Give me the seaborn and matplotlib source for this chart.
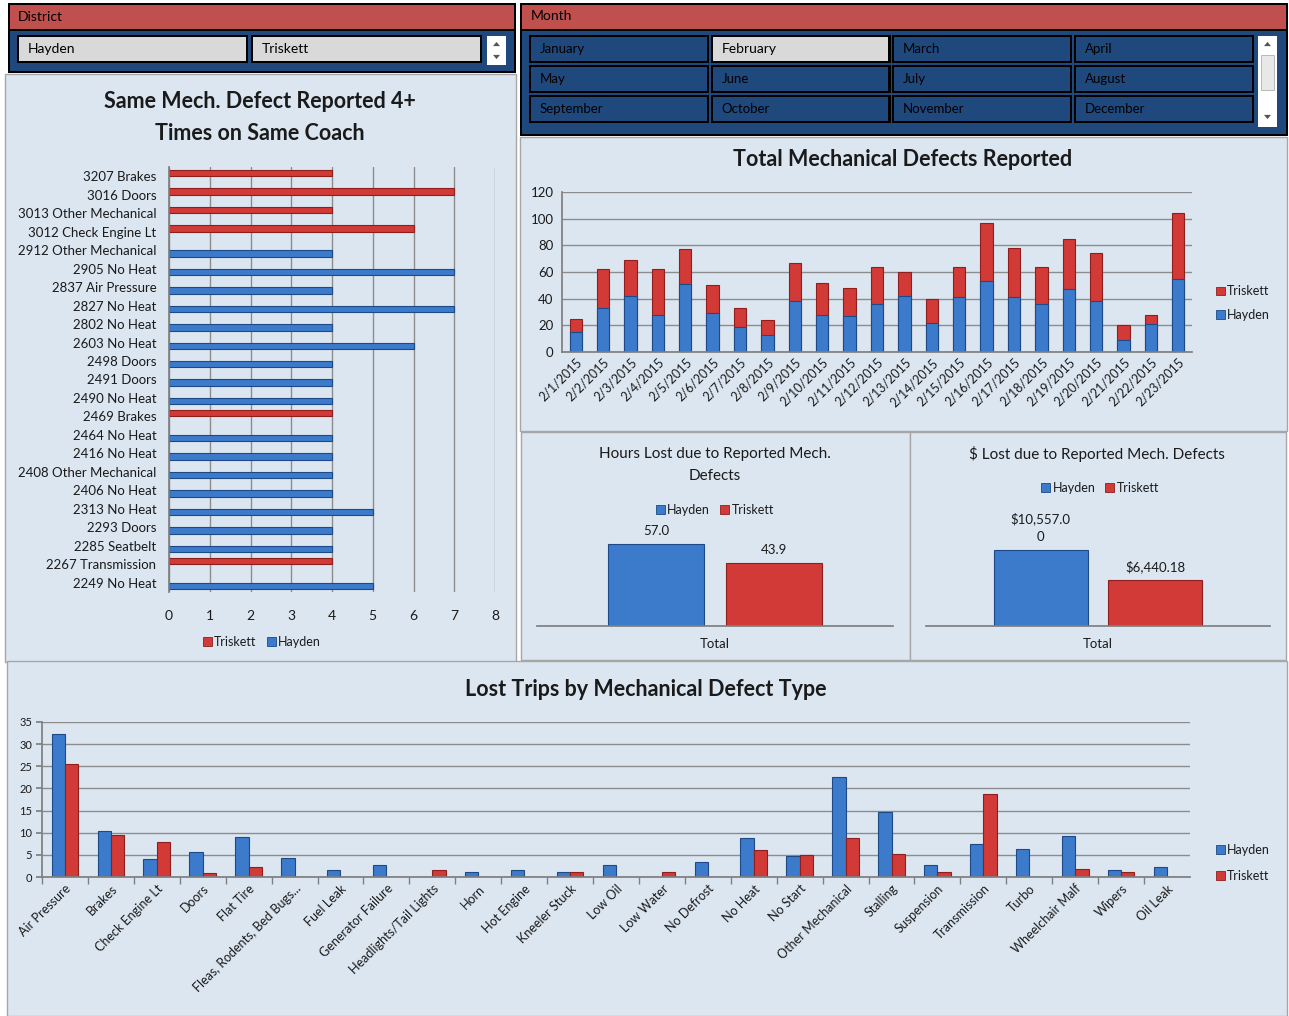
import numpy as np
import pandas as pd
import matplotlib
matplotlib.use("Agg")
import matplotlib.pyplot as plt
import seaborn as sns
from matplotlib.patches import Rectangle, Patch, Polygon

# ---------------- data ----------------
districts = ["Hayden", "Triskett"]
months = ["January", "February", "March", "April",
          "May", "June", "July", "August",
          "September", "October", "November", "December"]
selected_month = "February"

coach_labels = ["3207 Brakes", "3016 Doors", "3013 Other Mechanical", "3012 Check Engine Lt",
                "2912 Other Mechanical", "2905 No Heat", "2837 Air Pressure", "2827 No Heat",
                "2802 No Heat", "2603 No Heat", "2498 Doors", "2491 Doors", "2490 No Heat",
                "2469 Brakes", "2464 No Heat", "2416 No Heat", "2408 Other Mechanical",
                "2406 No Heat", "2313 No Heat", "2293 Doors", "2285 Seatbelt",
                "2267 Transmission", "2249 No Heat"]
coach_district = ["Triskett", "Triskett", "Triskett", "Triskett",
                  "Hayden", "Hayden", "Hayden", "Hayden", "Hayden", "Hayden", "Hayden",
                  "Hayden", "Hayden", "Triskett", "Hayden", "Hayden", "Hayden", "Hayden",
                  "Hayden", "Hayden", "Hayden", "Triskett", "Hayden"]
coach_counts = [4, 7, 4, 6, 4, 7, 4, 7, 4, 6, 4, 4, 4, 4, 4, 4, 4, 4, 5, 4, 4, 4, 5]

dates = ["2/1/2015", "2/2/2015", "2/3/2015", "2/4/2015", "2/5/2015", "2/6/2015",
         "2/7/2015", "2/8/2015", "2/9/2015", "2/10/2015", "2/11/2015", "2/12/2015",
         "2/13/2015", "2/14/2015", "2/15/2015", "2/16/2015", "2/17/2015", "2/18/2015",
         "2/19/2015", "2/20/2015", "2/21/2015", "2/22/2015", "2/23/2015"]
hayden_daily = [15, 33, 42, 28, 51, 29, 19, 13, 38, 28, 27, 36, 42, 22, 41, 53, 41, 36, 47, 38, 9, 21, 55]
triskett_daily = [10, 29, 27, 34, 26, 21, 14, 11, 29, 24, 21, 28, 18, 18, 23, 44, 37, 28, 38, 36, 11, 7, 49]

hours_lost = [57.0, 43.9]
dollars_lost = [10557.00, 6440.18]

defect_types = ["Air Pressure", "Brakes", "Check Engine Lt", "Doors", "Flat Tire",
                "Fleas, Rodents, Bed Bugs...", "Fuel Leak", "Generator Failure",
                "Headlights/Tail Lights", "Horn", "Hot Engine", "Kneeler Stuck", "Low Oil",
                "Low Water", "No Defrost", "No Heat", "No Start", "Other Mechanical",
                "Stalling", "Suspension", "Transmission", "Turbo", "Wheelchair Malf",
                "Wipers", "Oil Leak"]
hayden_trips = [32.3, 10.5, 4.1, 5.6, 9.0, 4.2, 1.5, 2.7, 0, 1.1, 1.5, 1.1, 2.7,
                0, 3.4, 8.7, 4.7, 22.6, 14.7, 2.6, 7.5, 6.4, 9.3, 1.5, 2.3]
triskett_trips = [25.6, 9.4, 8.0, 0.9, 2.3, 0, 0, 0, 1.5, 0, 0, 1.1, 0,
                  1.1, 0, 6.0, 4.9, 8.7, 5.3, 1.1, 18.8, 0, 1.9, 1.1, 0]

# ---------------- style ----------------
sns.set_theme(style="white")
plt.rcParams["font.family"] = ["Lato", "DejaVu Sans"]

BLUE = "#3C7BCB"
BLUE_EDGE = "#1D4A86"
RED = "#D13A37"
RED_EDGE = "#8E1F1D"
PANEL = "#DCE6F1"
PANEL_EDGE = "#A6A6A6"
HEADER = "#C0504D"
SLICER = "#1F497D"
GRID = "#8C8C8C"
TXT = "#1A1A1A"
PAL = {"Hayden": BLUE, "Triskett": RED}
EDGE = {"Hayden": BLUE_EDGE, "Triskett": RED_EDGE}

W, H = 1289, 1016
fig = plt.figure(figsize=(W / 100, H / 100), dpi=100)
fig.patch.set_facecolor("white")


def add_ax(x0, y0, x1, y1):
    a = fig.add_axes([x0 / W, 1 - y1 / H, (x1 - x0) / W, (y1 - y0) / H])
    a.set_facecolor("none")
    return a


def rect(x0, y0, x1, y1, fc, ec="none", lw=0, z=-5):
    fig.add_artist(Rectangle((x0 / W, 1 - y1 / H), (x1 - x0) / W, (y1 - y0) / H,
                             transform=fig.transFigure, facecolor=fc, edgecolor=ec,
                             linewidth=lw, zorder=z))


def txt(x, y, s, **kw):
    kw.setdefault("color", TXT)
    fig.text(x / W, 1 - y / H, s, **kw)


def tri(x, y, up, z=-2):
    s = 3.5
    if up:
        pts = [(x - s, y + s * 0.6), (x + s, y + s * 0.6), (x, y - s * 0.6)]
    else:
        pts = [(x - s, y - s * 0.6), (x + s, y - s * 0.6), (x, y + s * 0.6)]
    fig.add_artist(Polygon([(px / W, 1 - py / H) for px, py in pts], closed=True,
                           transform=fig.transFigure, facecolor="#555555",
                           edgecolor="none", zorder=z))


def color_edges(ax):
    for p in ax.patches:
        fc = p.get_facecolor()
        if abs(fc[0] - matplotlib.colors.to_rgb(BLUE)[0]) < 0.05:
            p.set_edgecolor(BLUE_EDGE)
        else:
            p.set_edgecolor(RED_EDGE)
        p.set_linewidth(0.8)


def legend(handles_names, x, y, ncol, fontsize=9, labelspacing=0.5):
    handles = [Patch(facecolor=PAL[n], edgecolor=EDGE[n], linewidth=0.6) for n in handles_names]
    fig.legend(handles, handles_names, loc="center", bbox_to_anchor=(x / W, 1 - y / H),
               ncol=ncol, frameon=False, handlelength=0.7, handleheight=0.7,
               handletextpad=0.2, columnspacing=0.8, fontsize=fontsize,
               labelspacing=labelspacing, labelcolor=TXT)


# ---------------- slicers ----------------
# District slicer
rect(8, 3, 516, 73, "#000000")
rect(10, 5, 514, 29, HEADER)
rect(10, 31, 514, 71, SLICER)
txt(18, 17, "District", fontsize=10, va="center", ha="left", color="#000000")
for i, d in enumerate(districts):
    x0 = 18 + i * 234
    rect(x0 - 1, 35, x0 + 230, 63, "#000000", z=-4)
    rect(x0 + 1, 37, x0 + 228, 61, "#D9D9D9", z=-3)
    txt(x0 + 10, 49, d, fontsize=10, va="center", ha="left", color="#000000")
rect(487, 36, 506, 65, "white", z=-3)
tri(496.5, 44, True)
tri(496.5, 57, False)

# Month slicer
rect(520, 3, 1288, 136, "#000000")
rect(522, 5, 1286, 29, HEADER)
rect(522, 31, 1286, 134, SLICER)
txt(531, 16, "Month", fontsize=10, va="center", ha="left", color="#000000")
for i, m in enumerate(months):
    r, c = divmod(i, 4)
    x0 = 530 + c * 181.5
    y0 = 36 + r * 30
    sel = (m == selected_month)
    rect(x0 - 1, y0 - 1, x0 + 179, y0 + 27, "#000000", z=-4)
    rect(x0 + 1, y0 + 1, x0 + 177, y0 + 25, "#D9D9D9" if sel else SLICER, z=-3)
    txt(x0 + 10, y0 + 13, m, fontsize=10 if sel else 9.5, va="center", ha="left",
        color="#000000")
rect(1258, 36, 1277, 127, "white", z=-3)
rect(1261, 55, 1274, 90, "#E8E8E8", ec="#B0B0B0", lw=0.6, z=-2)
tri(1267.5, 44, True)
tri(1267.5, 117, False)

# ---------------- panels ----------------
rect(5, 74, 516, 662, PANEL, ec=PANEL_EDGE, lw=1)
rect(520, 137, 1287, 431, PANEL, ec=PANEL_EDGE, lw=1)
rect(521, 432, 910, 660, PANEL, ec=PANEL_EDGE, lw=1)
rect(910, 432, 1286, 660, PANEL, ec=PANEL_EDGE, lw=1)
rect(7, 661, 1287, 1016, PANEL, ec=PANEL_EDGE, lw=1)

# ---------------- horizontal bar chart ----------------
coach = pd.DataFrame({"Coach": coach_labels, "District": coach_district, "Count": coach_counts})
ax1 = add_ax(169, 167, 495, 592)
sns.barplot(data=coach, y="Coach", x="Count", hue="District", hue_order=["Triskett", "Hayden"],
            palette=PAL, dodge=True, width=0.7, orient="h", ax=ax1, legend=False, saturation=1)
color_edges(ax1)
ax1.set_xlim(0, 8)
ax1.set_xticks(range(0, 9))
ax1.grid(axis="x", color=GRID, linewidth=1)
ax1.set_axisbelow(True)
for s in ["top", "right", "bottom"]:
    ax1.spines[s].set_visible(False)
ax1.spines["left"].set_color("#7F7F7F")
ax1.set_xlabel("")
ax1.set_ylabel("")
ax1.tick_params(axis="y", length=0, pad=9, labelsize=9.5, labelcolor=TXT)
ax1.tick_params(axis="x", length=0, pad=13, labelsize=10, labelcolor=TXT)
txt(260, 102, "Same Mech. Defect Reported 4+", fontsize=15.5, fontweight="bold", ha="center", va="center")
txt(260, 134, "Times on Same Coach", fontsize=15.5, fontweight="bold", ha="center", va="center")
legend(["Triskett", "Hayden"], 262, 642, ncol=2)

# ---------------- stacked daily chart ----------------
daily = pd.DataFrame({"Date": dates, "Hayden": hayden_daily, "Triskett": triskett_daily})
daily["Total"] = daily["Hayden"] + daily["Triskett"]
ax2 = add_ax(562, 192, 1192, 352)
sns.barplot(data=daily, x="Date", y="Total", color=RED, width=0.45, ax=ax2, saturation=1)
sns.barplot(data=daily, x="Date", y="Hayden", color=BLUE, width=0.45, ax=ax2, saturation=1)
color_edges(ax2)
ax2.set_ylim(0, 120)
ax2.set_yticks(range(0, 121, 20))
ax2.grid(axis="y", color=GRID, linewidth=1)
ax2.set_axisbelow(True)
for s in ["top", "right"]:
    ax2.spines[s].set_visible(False)
for s in ["left", "bottom"]:
    ax2.spines[s].set_color("#7F7F7F")
ax2.set_xlabel("")
ax2.set_ylabel("")
ax2.tick_params(axis="y", length=0, pad=6, labelsize=9.5, labelcolor=TXT)
ax2.tick_params(axis="x", length=0, pad=3, labelsize=9, labelcolor=TXT)
plt.setp(ax2.get_xticklabels(), rotation=45, ha="right", rotation_mode="anchor")
txt(903, 159, "Total Mechanical Defects Reported", fontsize=15.5, fontweight="bold", ha="center", va="center")
legend(["Triskett", "Hayden"], 1243, 303, ncol=1, fontsize=9, labelspacing=0.9)

# ---------------- hours lost ----------------
hours = pd.DataFrame({"Group": ["Total", "Total"], "District": districts, "Hours": hours_lost})
ax3 = add_ax(537, 500, 893, 626)
sns.barplot(data=hours, x="Group", y="Hours", hue="District", hue_order=districts, palette=PAL,
            width=0.66, gap=0.18, ax=ax3, legend=False, saturation=1)
color_edges(ax3)
ax3.set_ylim(0, 57 * 126 / 82)
ax3.set_yticks([])
for s in ["top", "right", "left"]:
    ax3.spines[s].set_visible(False)
ax3.spines["bottom"].set_color("#7F7F7F")
ax3.set_xlabel("")
ax3.set_ylabel("")
ax3.tick_params(axis="x", length=0, pad=9, labelsize=9.5, labelcolor=TXT)
for cont in ax3.containers:
    ax3.bar_label(cont, fmt="%.1f", padding=5, fontsize=9.5, color=TXT)
txt(715, 454, "Hours Lost due to Reported Mech.", fontsize=11, ha="center", va="center")
txt(715, 476, "Defects", fontsize=11, ha="center", va="center")
legend(districts, 715, 510, ncol=2)

# ---------------- dollars lost ----------------
dollars = pd.DataFrame({"Group": ["Total", "Total"], "District": districts, "Dollars": dollars_lost})
ax4 = add_ax(926, 500, 1270, 626)
sns.barplot(data=dollars, x="Group", y="Dollars", hue="District", hue_order=districts, palette=PAL,
            width=0.667, gap=0.18, ax=ax4, legend=False, saturation=1)
color_edges(ax4)
ax4.set_ylim(0, dollars_lost[0] * 126 / 76)
ax4.set_yticks([])
for s in ["top", "right", "left"]:
    ax4.spines[s].set_visible(False)
ax4.spines["bottom"].set_color("#7F7F7F")
ax4.set_xlabel("")
ax4.set_ylabel("")
ax4.tick_params(axis="x", length=0, pad=9, labelsize=9.5, labelcolor=TXT)


def money_label(v):
    s = "$" + f"{v:,.2f}"
    if len(s) > 9:
        s = s[:9] + "\n" + s[9:]
    return s.replace("$", "\\$")


for cont, v in zip(ax4.containers, dollars_lost):
    ax4.bar_label(cont, labels=[money_label(v)], padding=5, fontsize=9.5, color=TXT,
                  multialignment="center", linespacing=1.6)
txt(1097, 454, "\\$ Lost due to Reported Mech. Defects", fontsize=11, ha="center", va="center")
legend(districts, 1100, 488, ncol=2)

# ---------------- lost trips ----------------
trips = pd.DataFrame({
    "Defect": defect_types + defect_types,
    "District": ["Hayden"] * len(defect_types) + ["Triskett"] * len(defect_types),
    "Trips": hayden_trips + triskett_trips,
})
ax5 = add_ax(42, 722, 1190, 877)
sns.barplot(data=trips, x="Defect", y="Trips", hue="District", hue_order=districts, palette=PAL,
            width=0.58, ax=ax5, legend=False, saturation=1)
color_edges(ax5)
ax5.set_ylim(0, 35)
ax5.set_yticks(range(0, 36, 5))
ax5.grid(axis="y", color=GRID, linewidth=1)
ax5.set_axisbelow(True)
for s in ["top", "right"]:
    ax5.spines[s].set_visible(False)
for s in ["left", "bottom"]:
    ax5.spines[s].set_color("#7F7F7F")
ax5.set_xlabel("")
ax5.set_ylabel("")
ax5.set_xticks(np.arange(len(defect_types)) - 0.5, minor=True)
ax5.tick_params(axis="x", which="minor", length=5, color="#7F7F7F", bottom=True)
ax5.tick_params(axis="x", which="major", length=0, pad=4, labelsize=9, labelcolor=TXT)
ax5.tick_params(axis="y", length=4, color="#7F7F7F", left=True, pad=3, labelsize=8, labelcolor=TXT)
plt.setp(ax5.get_xticklabels(), rotation=45, ha="right", rotation_mode="anchor")
txt(646, 689, "Lost Trips by Mechanical Defect Type", fontsize=15.5, fontweight="bold", ha="center", va="center")
legend(districts, 1243, 863, ncol=1, fontsize=9, labelspacing=1.1)

fig.savefig("out.png", dpi=100, facecolor="white")
